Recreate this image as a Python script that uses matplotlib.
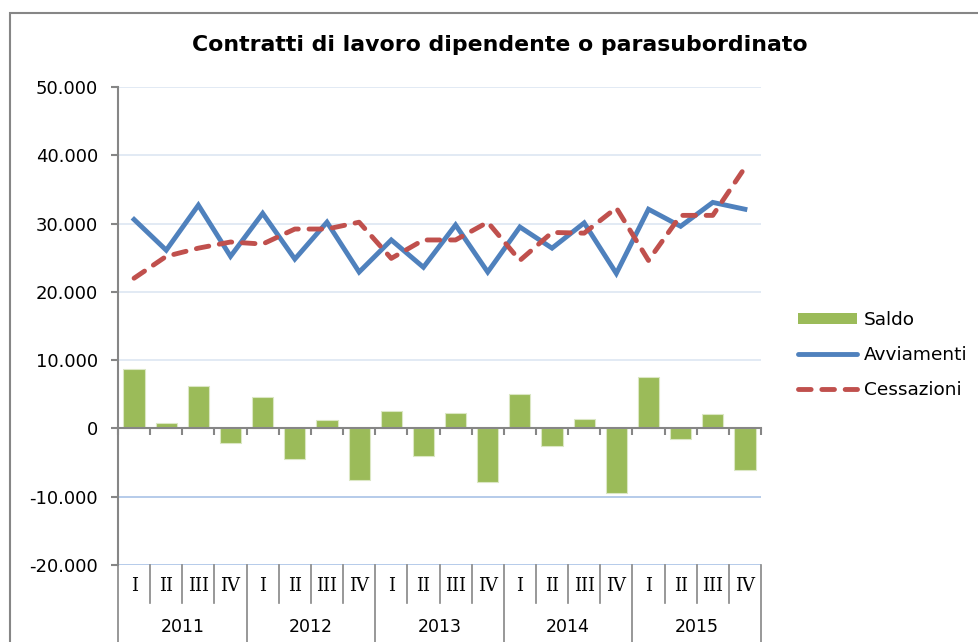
import matplotlib
matplotlib.use('Agg')
import matplotlib.pyplot as plt
import matplotlib.transforms as mtransforms
from matplotlib.patches import Patch, Rectangle
from matplotlib.lines import Line2D
from matplotlib.ticker import FuncFormatter, FixedLocator
import numpy as np

# %%
years = ['2011', '2012', '2013', '2014', '2015']
quarters = ['I', 'II', 'III', 'IV']

saldo = [8750, 850, 6250, -2150, 4650, -4500, 1200, -7600, 2600, -4050,
         2200, -7800, 5000, -2600, 1350, -9500, 7500, -1600, 2100, -6100]
avviamenti = [30600, 26100, 32700, 25200, 31500, 24800, 30200, 22900, 27600, 23600,
              29800, 22900, 29500, 26400, 30100, 22700, 32100, 29600, 33100, 32100]
cessazioni = [22000, 25200, 26400, 27300, 27000, 29200, 29200, 30200, 24900, 27600,
              27600, 30200, 24600, 28700, 28600, 32300, 24600, 31200, 31200, 38200]

GREEN = '#9bbb59'
BLUE = '#4f81bd'
RED = '#c0504d'
AXIS = '#868686'

# %%
fig = plt.figure(figsize=(9.79, 6.42), dpi=100)
W, H = 979, 642
ax = fig.add_axes([118 / W, 1 - 565 / H, (761 - 118) / W, (565 - 87) / H])

x = np.arange(len(saldo))
ax.set_xlim(-0.5, len(saldo) - 0.5)
ax.set_ylim(-20000, 50000)

# gridlines
for v in range(0, 50001, 10000):
    ax.axhline(v, color='#dde6f2', lw=1.2, zorder=0)
for v in (-10000, -20000):
    ax.axhline(v, color='#a9c2e6', lw=1.2, zorder=0)

ax.bar(x, saldo, width=0.66, color=GREEN, edgecolor='#dbe7c4', lw=0.8, zorder=2)
ax.plot(x, avviamenti, color=BLUE, lw=3.5, solid_joinstyle='miter', zorder=3)
red, = ax.plot(x, cessazioni, color=RED, lw=3.5, dash_capstyle='round', zorder=3)
red.set_dashes([2.6, 2.2])

# axes
for s in ('top', 'right'):
    ax.spines[s].set_visible(False)
ax.spines['left'].set_color(AXIS)
ax.spines['left'].set_linewidth(1.5)
ax.spines['bottom'].set_position(('data', 0))
ax.spines['bottom'].set_color(AXIS)
ax.spines['bottom'].set_linewidth(1.5)
ax.spines['bottom'].set_zorder(4)

ax.yaxis.set_major_locator(FixedLocator(range(-20000, 50001, 10000)))
ax.yaxis.set_major_formatter(FuncFormatter(lambda v, p: f'{v:,.0f}'.replace(',', '.')))
ax.tick_params(axis='y', direction='out', length=5, width=1.5, color=AXIS,
               labelsize=13, pad=9.5)
ax.xaxis.set_major_locator(FixedLocator(np.arange(-0.5, len(saldo), 1)))
ax.tick_params(axis='x', direction='out', length=5, width=1.5, color=AXIS,
               labelbottom=False)

# two-level category axis
trans = mtransforms.blended_transform_factory(ax.transData, ax.transAxes)
short = -(603 - 565) / 478
long_ = -(642 - 565) / 478
for i in range(len(saldo) + 1):
    b = i - 0.5
    ax.plot([b, b], [0, long_ if i % 4 == 0 else short], transform=trans,
            color=AXIS, lw=1.2, clip_on=False)
for i in range(len(saldo)):
    ax.text(i, -(586 - 565) / 478, quarters[i % 4], transform=trans,
            ha='center', va='center', fontsize=13, family='DejaVu Serif')
for j, yr in enumerate(years):
    ax.text(j * 4 + 1.5, -(627 - 565) / 478, yr, transform=trans,
            ha='center', va='center', fontsize=12.5)

# title
fig.text(499.5 / W, 1 - 45 / H, 'Contratti di lavoro dipendente o parasubordinato',
         ha='center', va='center', fontsize=15.8, fontweight='bold')

# legend
handles = [Patch(facecolor=GREEN, edgecolor='none'),
           Line2D([], [], color=BLUE, lw=3.5, solid_capstyle='round'),
           Line2D([], [], color=RED, lw=3.5, dashes=[2.6, 2.2], dash_capstyle='round')]
fig.legend(handles, ['Saldo', 'Avviamenti', 'Cessazioni'],
           loc='center left', bbox_to_anchor=(781 / W, 1 - 355 / H),
           frameon=False, fontsize=13.3, handlelength=3.2, handleheight=0.55,
           handletextpad=0.38, labelspacing=0.92)

# chart border
fig.patches.append(Rectangle((10 / W, -0.1), 1.0, 1.1 - 13 / H, transform=fig.transFigure,
                             fill=False, edgecolor=AXIS, lw=1.5))

fig.savefig('out.png', dpi=100)
